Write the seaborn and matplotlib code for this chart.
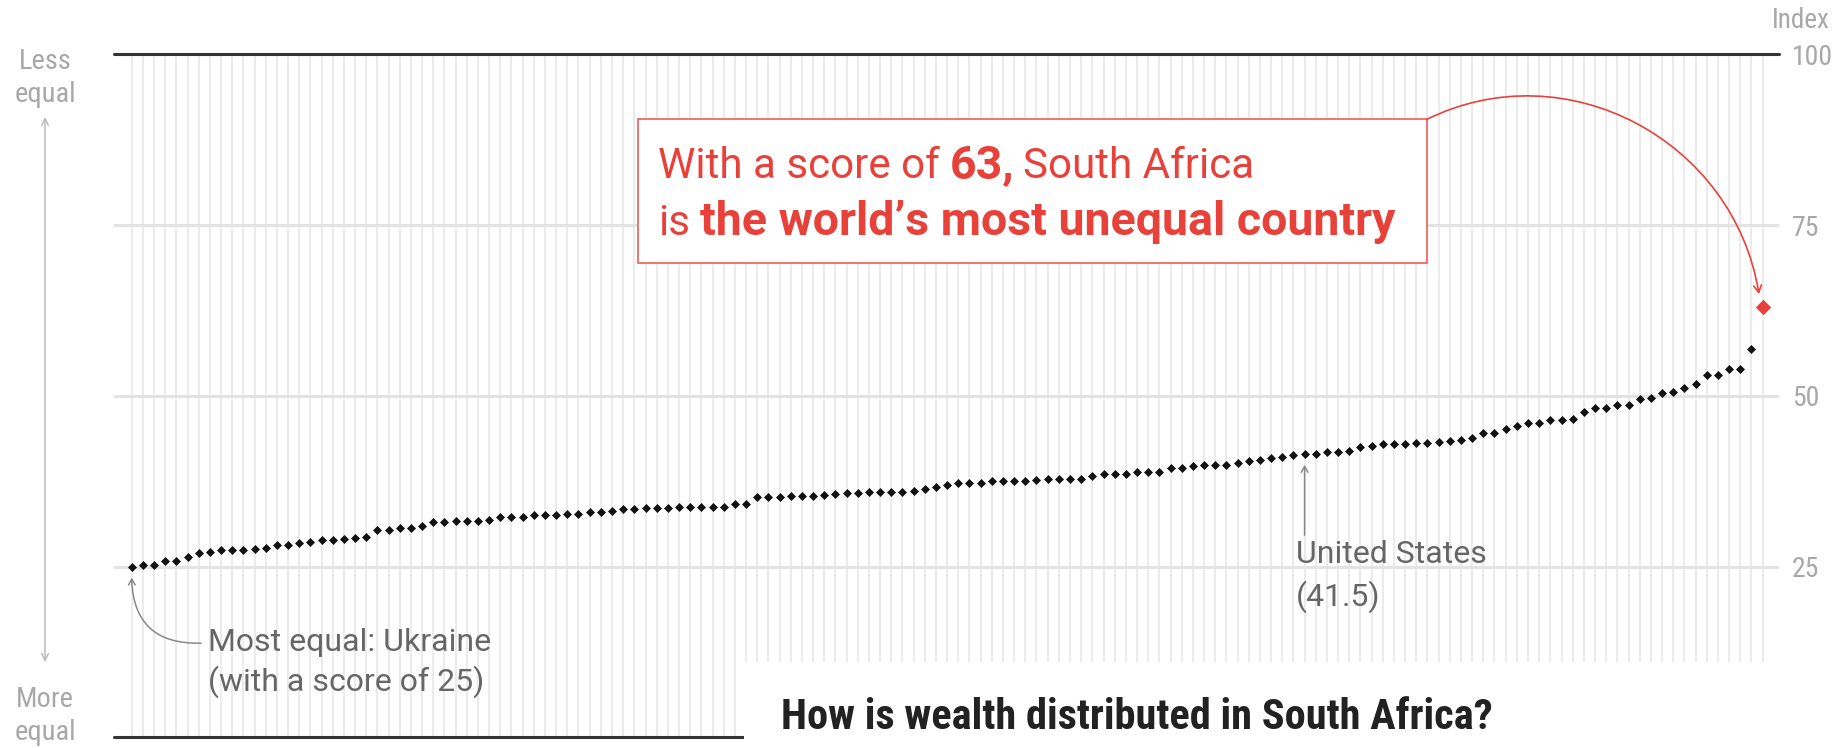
import matplotlib
matplotlib.use("Agg")
import matplotlib.pyplot as plt
from matplotlib import font_manager as fm
from matplotlib.patches import Rectangle, FancyArrowPatch
from matplotlib.path import Path
from matplotlib.offsetbox import TextArea, HPacker, VPacker, AnnotationBbox
import pandas as pd
import seaborn as sns

# Gini index per country, sorted from most equal (Ukraine) to least equal (South Africa)
scores = [
    25.0, 25.3, 25.3, 25.8, 25.8, 26.4, 27.0, 27.2, 27.4, 27.4,
    27.5, 27.6, 27.7, 28.1, 28.1, 28.4, 28.6, 28.9, 28.9, 29.1,
    29.2, 29.4, 30.3, 30.4, 30.7, 30.7, 31.0, 31.5, 31.6, 31.7,
    31.7, 31.7, 31.8, 32.2, 32.2, 32.3, 32.5, 32.6, 32.6, 32.7,
    32.7, 33.0, 33.0, 33.1, 33.4, 33.5, 33.6, 33.6, 33.6, 33.7,
    33.8, 33.8, 33.8, 33.8, 34.2, 34.2, 35.2, 35.2, 35.2, 35.3,
    35.3, 35.4, 35.5, 35.6, 35.8, 35.8, 35.9, 35.9, 35.9, 36.0,
    36.1, 36.4, 36.6, 37.0, 37.3, 37.3, 37.3, 37.5, 37.5, 37.6,
    37.6, 37.7, 37.8, 37.8, 37.9, 37.9, 38.3, 38.5, 38.5, 38.6,
    38.8, 38.9, 38.9, 39.4, 39.4, 39.7, 39.9, 39.9, 39.9, 40.2,
    40.4, 40.6, 40.9, 41.0, 41.4, 41.5, 41.5, 41.8, 41.8, 41.9,
    42.5, 42.7, 42.9, 42.9, 43.0, 43.1, 43.1, 43.3, 43.4, 43.6,
    43.9, 44.5, 44.5, 45.1, 45.6, 46.1, 46.1, 46.5, 46.5, 46.6,
    47.7, 48.2, 48.2, 48.7, 48.7, 49.6, 49.7, 50.4, 50.5, 51.1,
    51.8, 53.1, 53.1, 53.9, 54.0, 56.9, 63.0,
]
rank = list(range(len(scores)))
us_rank = 105
y_ticks = [25, 50, 75, 100]
y_labels = ["25", "50", "75", "100"]

RED = "#e8413a"
GREY = "#a8a8a8"
TEXT = "#666666"

avail = {f.name for f in fm.fontManager.ttflist}
narrow = next((n for n in ["Roboto Condensed", "Liberation Sans Narrow"] if n in avail), "DejaVu Sans")
wide = "Roboto" if "Roboto" in avail else "DejaVu Sans"

sns.set_theme(style="white")
plt.rcParams["font.family"] = [narrow, "DejaVu Sans"]

df = pd.DataFrame({"rank": rank, "score": scores})

fig = plt.figure(figsize=(18.37, 7.48), dpi=100)
ax = fig.add_axes([114 / 1837, (748 - 737.4) / 748, (1779 - 114) / 1837, (737.4 - 54.4) / 748])

sns.scatterplot(data=df.iloc[:-1], x="rank", y="score", marker="D", s=21,
                color="#111111", linewidth=0, ax=ax, zorder=4)
sns.scatterplot(data=df.iloc[-1:], x="rank", y="score", marker="D", s=62,
                color=RED, linewidth=0, ax=ax, zorder=4)

ax.set_xlim(-1.58, 147.47)
ax.set_ylim(0, 100)
ax.set_xticks(rank)
ax.set_yticks(y_ticks)
ax.set_yticklabels(y_labels)
ax.grid(axis="x", color="#ebebeb", lw=1.4, zorder=0)
ax.grid(axis="y", color="#e3e3e3", lw=2.2, zorder=1)
ax.axhline(100, color="#333333", lw=2.2, zorder=2, clip_on=False)
ax.axhline(0, color="#333333", lw=2.2, zorder=2, clip_on=False)
ax.yaxis.tick_right()
ax.tick_params(axis="x", length=0, labelbottom=False)
ax.tick_params(axis="y", length=0, pad=9.5, labelsize=20, labelcolor=GREY)
ax.set_xlabel("")
ax.set_ylabel("")
for s in ax.spines.values():
    s.set_visible(False)

fig.text(0.9962, 0.972, "Index", ha="right", va="center", fontsize=19.5, color=GREY)

# left-hand scale hint
fig.text(0.0245, 0.8957, "Less\nequal", ha="center", va="center", fontsize=20.5,
         color=GREY, linespacing=1.25)
fig.text(0.0245, 0.0428, "More\nequal", ha="center", va="center", fontsize=20.5,
         color=GREY, linespacing=1.25)
ax.annotate("", xy=(0.0245, 0.8436), xytext=(0.0245, 0.115),
            xycoords="figure fraction", textcoords="figure fraction",
            arrowprops=dict(arrowstyle="<->,head_length=0.4,head_width=0.2",
                            color="#bbbbbb", lw=1.1, shrinkA=0, shrinkB=0))

# most equal
ax.text(6.83, 10.9, "Most equal: Ukraine\n(with a score of 25)", ha="left", va="center",
        fontsize=23, family=wide, color=TEXT, linespacing=1.33)
ax.annotate("", xy=(rank[0], scores[0] - 1.6), xytext=(6.2, 13.8),
            arrowprops=dict(arrowstyle="->,head_length=0.35,head_width=0.2",
                            connectionstyle="arc3,rad=-0.5", color="#888888",
                            lw=1.1, shrinkA=0, shrinkB=0))

# United States
ax.text(104.2, 23.6, "United States\n(41.5)", ha="left", va="center",
        fontsize=23, family=wide, color=TEXT, linespacing=1.45)
ax.annotate("", xy=(us_rank, scores[us_rank] - 1.6), xytext=(us_rank, 29.6),
            arrowprops=dict(arrowstyle="->,head_length=0.35,head_width=0.2",
                            color="#888888", lw=1.1, shrinkA=0, shrinkB=0))

# red call-out box
bx0, bx1, by0, by1 = 45.37, 115.96, 69.4, 90.5
ax.add_patch(Rectangle((bx0, by0), bx1 - bx0, by1 - by0, facecolor="white",
                       edgecolor="#ee6a63", lw=1.3, zorder=6))
reg = dict(color=RED, fontsize=30.3, family=wide)
bold = dict(color=RED, fontsize=33.5, family=wide, fontweight="bold")
sp = 7
line1 = HPacker(children=[TextArea("With a score of", textprops=reg),
                          TextArea("63,", textprops=bold),
                          TextArea("South Africa", textprops=reg)],
                align="baseline", pad=0, sep=sp)
line2 = HPacker(children=[TextArea("is", textprops=reg),
                          TextArea("the world\u2019s most unequal country", textprops=bold)],
                align="baseline", pad=0, sep=sp)
block = VPacker(children=[line1, line2], align="left", pad=0, sep=9)
ab = AnnotationBbox(block, (47.1, 79.6), xycoords="data", box_alignment=(0, 0.5),
                    frameon=False, zorder=7)
ax.add_artist(ab)

# curved pointer from the box corner to South Africa
arc = Path([(bx1, by1), (128.46, 100.56), (143.43, 87.39), (145.68, 64.91)],
           [Path.MOVETO, Path.CURVE4, Path.CURVE4, Path.CURVE4])
ax.add_patch(FancyArrowPatch(path=arc, arrowstyle="->,head_length=0.5,head_width=0.28",
                             mutation_scale=10, color=RED, lw=1.2, zorder=7,
                             clip_on=False))

# title panel
fig.add_artist(Rectangle((744 / 1837, 0), 1 - 744 / 1837, 86 / 748,
                         transform=fig.transFigure, facecolor="white",
                         edgecolor="none", zorder=5))
fig.text(781 / 1837, 19 / 748, "How is wealth distributed in South Africa?",
         ha="left", va="baseline", fontsize=30.5, fontweight="bold",
         color="#222222", zorder=6)

fig.savefig("out.png", dpi=100)
